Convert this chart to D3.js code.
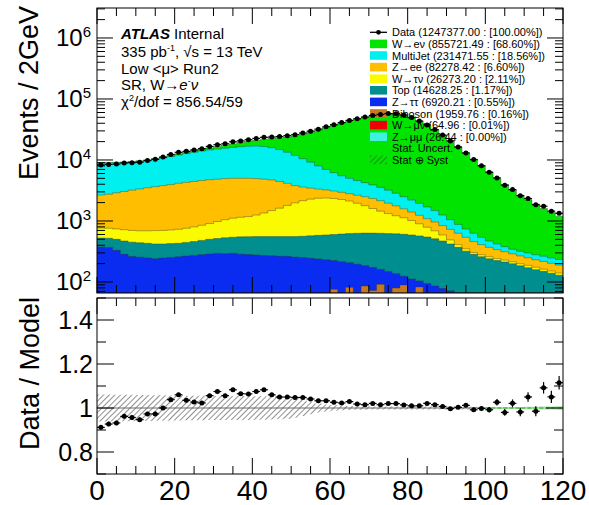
<!DOCTYPE html>
<meta charset="utf-8">
<style>
    body { margin: 0; background: #fff; }
    text { font-family: "Liberation Sans", Arial, Helvetica, sans-serif; fill: #000; }
</style>
<body>
<div id="chart"></div>
<script src="https://cdn.jsdelivr.net/npm/d3@7"></script>
<script>
    var width = 589,
        height = 505

    // 2 GeV bins from 0 to 120
    var binEdges = d3.range(0, 122, 2);

    var dataCounts = [8299, 8454, 8556, 8927, 9044, 9186, 9779, 10265, 11150, 12300,
        13356, 13869, 14583, 15345, 16685, 17845, 18427, 19873, 20555, 21493,
        22575, 23501, 23744, 24255, 25043, 25990, 27667, 29669, 32023, 35019,
        37962, 41022, 44556, 47439, 50547, 53705, 55825, 57630, 57324, 54553,
        49591, 43531, 37573, 31465, 25578, 20538, 16349, 13055, 10168, 8034,
        6299, 5079, 3871, 3267, 2602, 2331, 1852, 1746, 1449, 1337];

    var wenu = [150, 160, 180, 200, 230, 260, 300, 350, 410, 480,
        570, 680, 820, 1000, 1220, 1500, 1850, 2280, 2800, 3400,
        4100, 5100, 6500, 8300, 10450, 12900, 15900, 19300, 23000, 26900,
        30800, 34600, 38300, 42000, 45550, 48700, 51450, 53300, 53350, 51300,
        46900, 41150, 35100, 29520, 24150, 19550, 15420, 12160, 9620, 7510,
        5880, 4530, 3570, 2855, 2330, 1920, 1600, 1335, 1132, 965];

    var multijet = [6280, 6210, 6100, 6030, 6020, 6090, 6250, 6550, 6940, 7420,
        7880, 8420, 8930, 9400, 9830, 10250, 10650, 11070, 11490, 11800,
        11950, 11750, 11200, 10350, 9250, 8100, 6900, 5750, 4670, 3780,
        3100, 2550, 2200, 1950, 1750, 1570, 1400, 1240, 1080, 920,
        800, 710, 610, 520, 410, 320, 250, 200, 170, 130,
        100, 80, 66, 55, 52, 50, 48, 47, 45, 45];

    var zee = [1902, 1990, 2160, 2330, 2500, 2660, 2810, 2955, 3100, 3240,
        3420, 3540, 3650, 3750, 3840, 3870, 3900, 3890, 3860, 3820,
        3700, 3500, 3220, 2830, 2350, 1820, 1450, 1170, 970, 840,
        760, 700, 680, 700, 720, 730, 700, 640, 550, 450,
        380, 340, 300, 270, 250, 240, 220, 190, 155, 130,
        110, 98, 85, 75, 68, 62, 57, 55, 51, 49];

    var wtaunu = [242, 240, 240, 250, 250, 250, 260, 275, 280, 285,
        300, 315, 340, 370, 410, 465, 520, 570, 602, 627,
        695, 795, 925, 1065, 1247, 1425, 1590, 1710, 1780, 1790,
        1740, 1640, 1500, 1322, 1148, 968, 822, 698, 605, 525,
        430, 330, 245, 180, 120, 70, 40, 30, 20, 20,
        20, 17, 16, 15, 15, 16, 15, 13, 12, 11];

    var topQuark = [151, 152, 170, 185, 188, 185, 182, 180, 174, 173,
        172, 179, 188, 200, 213, 222, 240, 246, 263, 273,
        279, 285, 287, 293, 291, 300, 310, 326, 342, 360,
        376, 396, 414, 433, 448, 460, 468, 474, 479, 481,
        478, 466, 451, 424, 392, 348, 304, 260, 230, 210,
        194, 183, 175, 165, 153, 142, 132, 124, 116, 108];

    var ztautau = [370, 362, 324, 278, 254, 246, 239, 230, 235, 240,
        245, 252, 257, 263, 269, 274, 269, 272, 261, 255,
        249, 241, 237, 228, 225, 214, 205, 195, 184, 171,
        149, 157, 125, 132, 99, 100, 69, 83, 57, 35,
        51, 21, 41, 40, 47, 45, 27, 37, 36, 34,
        32, 30, 27, 25, 23, 22, 21, 19, 18, 16];

    var diboson = [4, 5, 5, 6, 7, 8, 8, 9, 10, 11,
        12, 13, 14, 16, 17, 18, 20, 21, 23, 24,
        26, 28, 30, 33, 36, 40, 44, 48, 53, 58,
        74, 56, 80, 62, 84, 71, 90, 64, 78, 88,
        60, 82, 52, 45, 30, 26, 38, 22, 18, 15,
        13, 11, 10, 9, 8, 7, 6, 6, 5, 5];

    var wmunu = [0.6, 0.7, 0.7, 0.8, 0.8, 0.9, 0.9, 1.0, 1.0, 1.1,
        1.1, 1.2, 1.2, 1.3, 1.3, 1.4, 1.4, 1.5, 1.5, 1.5,
        1.6, 1.6, 1.6, 1.7, 1.7, 1.6, 1.6, 1.5, 1.5, 1.4,
        1.4, 1.3, 1.3, 1.2, 1.2, 1.1, 1.1, 1.0, 1.0, 0.9,
        0.9, 0.8, 0.8, 0.7, 0.7, 0.6, 0.6, 0.5, 0.5, 0.5,
        0.4, 0.4, 0.4, 0.3, 0.3, 0.3, 0.3, 0.2, 0.2, 0.2];

    var zmumu = [0.3, 0.3, 0.3, 0.4, 0.4, 0.4, 0.4, 0.5, 0.5, 0.5,
        0.5, 0.5, 0.6, 0.6, 0.6, 0.6, 0.6, 0.6, 0.7, 0.7,
        0.7, 0.7, 0.7, 0.7, 0.7, 0.7, 0.6, 0.6, 0.6, 0.6,
        0.6, 0.5, 0.5, 0.5, 0.5, 0.5, 0.4, 0.4, 0.4, 0.4,
        0.4, 0.3, 0.3, 0.3, 0.3, 0.3, 0.3, 0.2, 0.2, 0.2,
        0.2, 0.2, 0.2, 0.2, 0.1, 0.1, 0.1, 0.1, 0.1, 0.1];

    // relative half widths of the uncertainty bands in the ratio
    var systBand = [0.061, 0.061, 0.060, 0.060, 0.060, 0.059, 0.059, 0.058, 0.058, 0.057,
        0.057, 0.056, 0.056, 0.056, 0.055, 0.055, 0.055, 0.054, 0.054, 0.054,
        0.053, 0.053, 0.052, 0.051, 0.049, 0.044, 0.036, 0.028, 0.021, 0.016,
        0.012, 0.010, 0.009, 0.008, 0.008, 0.007, 0.007, 0.007, 0.007, 0.007,
        0.007, 0.007, 0.007, 0.007, 0.007, 0.007, 0.007, 0.007, 0.006, 0.006,
        0, 0, 0, 0, 0, 0, 0, 0, 0, 0];

    var statBand = [0.002, 0.002, 0.002, 0.002, 0.002, 0.002, 0.002, 0.002, 0.002, 0.002,
        0.002, 0.002, 0.002, 0.002, 0.002, 0.002, 0.002, 0.002, 0.002, 0.002,
        0.002, 0.002, 0.002, 0.002, 0.002, 0.002, 0.002, 0.002, 0.002, 0.002,
        0.002, 0.002, 0.002, 0.002, 0.002, 0.002, 0.002, 0.002, 0.002, 0.002,
        0.002, 0.002, 0.002, 0.003, 0.003, 0.003, 0.003, 0.003, 0.003, 0.004,
        0.004, 0.004, 0.005, 0.005, 0.005, 0.006, 0.006, 0.007, 0.007, 0.008];

    var legendLabels = [
        'Data (1247377.00 : [100.00%])',
        'W\u2192e\u03bd (855721.49 : [68.60%])',
        'MultiJet (231471.55 : [18.56%])',
        'Z\u2192ee (82278.42 : [6.60%])',
        'W\u2192\u03c4\u03bd (26273.20 : [2.11%])',
        'Top (14628.25 : [1.17%])',
        'Z\u2192\u03c4\u03c4 (6920.21 : [0.55%])',
        'Diboson (1959.76 : [0.16%])',
        'W\u2192\u03bc\u03bd (64.96 : [0.01%])',
        'Z\u2192\u03bc\u03bc (26.44 : [0.00%])',
        'Stat. Uncert.',
        'Stat \u2295 Syst'
    ];

    var xTickLabels = ['0', '20', '40', '60', '80', '100', '120'];
    var logTickPowers = [2, 3, 4, 5, 6];
    var ratioTicks = [0.8, 1, 1.2, 1.4];
    var ratioTickLabels = ['0.8', '1', '1.2', '1.4'];

    // stack from bottom to top
    var stackValues = [zmumu, wmunu, diboson, ztautau, topQuark, wtaunu, zee, multijet, wenu];
    var stackColors = ['#3ff2e0', '#ee0000', '#c8781f', '#0a2cf0', '#008e8e', '#fafa00', '#ffbe00', '#00f0f0', '#00e400'];
    // legend order (top to bottom) -> index into stack
    var legendStack = [8, 7, 6, 5, 4, 3, 2, 1, 0];

    var left = 97, right = 563;
    var topY0 = 8, topY1 = 293;
    var botY0 = 298, botY1 = 474;

    var svg = d3.select('#chart').append('svg')
        .attr('width', width)
        .attr('height', height);

    var x = d3.scaleLinear().domain([0, 120]).range([left, right]);
    var y = d3.scaleLog().domain([66, 3.1e6]).range([topY1, topY0]).clamp(true);
    var yr = d3.scaleLinear().domain([0.7, 1.5]).range([botY1, botY0]).clamp(true);

    var cum = [];
    var running = dataCounts.map(function () { return 0; });
    stackValues.forEach(function (vals) {
        running = running.map(function (r, i) { return r + vals[i]; });
        cum.push(running);
    });
    var model = cum[cum.length - 1];

    function stepPoints(vals) {
        var pts = [];
        vals.forEach(function (v, i) {
            pts.push({x: binEdges[i], v: v});
            pts.push({x: binEdges[i + 1], v: v});
        });
        return pts;
    }

    var defs = svg.append('defs');
    defs.append('clipPath').attr('id', 'clipTop')
        .append('rect').attr('x', left).attr('y', topY0)
        .attr('width', right - left).attr('height', topY1 - topY0);
    defs.append('clipPath').attr('id', 'clipBot')
        .append('rect').attr('x', left).attr('y', botY0)
        .attr('width', right - left).attr('height', botY1 - botY0);
    var hatch = defs.append('pattern').attr('id', 'hatch')
        .attr('patternUnits', 'userSpaceOnUse')
        .attr('width', 4).attr('height', 4)
        .attr('patternTransform', 'rotate(45)');
    hatch.append('line').attr('x1', 0).attr('y1', 0).attr('x2', 0).attr('y2', 4)
        .attr('stroke', '#444').attr('stroke-width', 1.2);

    // ---------- upper panel: stacked histograms ----------
    var stackG = svg.append('g').attr('clip-path', 'url(#clipTop)');
    var area = d3.area()
        .x(function (d) { return x(d.x); })
        .y0(topY1)
        .y1(function (d) { return y(d.v); });
    var line = d3.line()
        .x(function (d) { return x(d.x); })
        .y(function (d) { return y(d.v); });

    for (var k = cum.length - 1; k >= 0; k--) {
        var pts = stepPoints(cum[k]);
        stackG.append('path').attr('d', area(pts)).attr('fill', stackColors[k]);
        stackG.append('path').attr('d', line(pts))
            .attr('fill', 'none').attr('stroke', '#333')
            .attr('stroke-opacity', 0.55).attr('stroke-width', 0.7);
    }

    // legend
    var legend = svg.append('g').attr('font-size', 11);
    legendLabels.forEach(function (lab, i) {
        var cy = 32.3 + 11.6 * i;
        if (i === 0) {
            legend.append('line').attr('x1', 370).attr('x2', 387).attr('y1', cy).attr('y2', cy)
                .attr('stroke', '#000').attr('stroke-width', 1.3);
            legend.append('circle').attr('cx', 378.5).attr('cy', cy).attr('r', 2.4);
        } else if (i <= 9) {
            legend.append('rect').attr('x', 370).attr('y', cy - 4.3)
                .attr('width', 17).attr('height', 8.6)
                .attr('fill', stackColors[legendStack[i - 1]]);
        } else if (i === 11) {
            legend.append('rect').attr('x', 370).attr('y', cy - 4.3)
                .attr('width', 17).attr('height', 8.6)
                .attr('fill', 'url(#hatch)');
        }
        legend.append('text').attr('x', 392).attr('y', cy + 4).text(lab);
    });

    // data points
    var dataG = svg.append('g').attr('clip-path', 'url(#clipTop)');
    dataCounts.forEach(function (n, i) {
        var cx = x((binEdges[i] + binEdges[i + 1]) / 2);
        var err = Math.sqrt(n);
        dataG.append('line')
            .attr('x1', x(binEdges[i])).attr('x2', x(binEdges[i + 1]))
            .attr('y1', y(n)).attr('y2', y(n))
            .attr('stroke', '#000').attr('stroke-width', 1.2);
        dataG.append('line')
            .attr('x1', cx).attr('x2', cx)
            .attr('y1', y(n - err)).attr('y2', y(n + err))
            .attr('stroke', '#000').attr('stroke-width', 1.2);
        dataG.append('circle').attr('cx', cx).attr('cy', y(n)).attr('r', 2.5);
    });

    // ---------- lower panel: ratio ----------
    var ratioG = svg.append('g').attr('clip-path', 'url(#clipBot)');
    var bandPts = [];
    systBand.forEach(function (s, i) {
        bandPts.push({x: binEdges[i], s: s});
        bandPts.push({x: binEdges[i + 1], s: s});
    });
    // the green stat band only shows where the hatched band ends
    var statPts = [];
    statBand.forEach(function (s, i) {
        if (systBand[i] > 0) return;
        statPts.push({x: binEdges[i], s: s});
        statPts.push({x: binEdges[i + 1], s: s});
    });

    ratioG.append('path')
        .attr('d', d3.area()
            .x(function (d) { return x(d.x); })
            .y0(function (d) { return yr(1 - d.s); })
            .y1(function (d) { return yr(1 + d.s); })(statPts))
        .attr('fill', '#7bd67b').attr('fill-opacity', 0.7);
    ratioG.append('path')
        .attr('d', d3.line()
            .x(function (d) { return x(d.x); })
            .y(yr(1))(statPts))
        .attr('fill', 'none').attr('stroke', '#2aa52a')
        .attr('stroke-width', 1.2).attr('stroke-dasharray', '4,2');

    ratioG.append('path')
        .attr('d', d3.area()
            .defined(function (d) { return d.s > 0; })
            .x(function (d) { return x(d.x); })
            .y0(function (d) { return yr(1 - d.s); })
            .y1(function (d) { return yr(1 + d.s); })(bandPts))
        .attr('fill', 'url(#hatch)');

    var bandEnd = d3.max(systBand.map(function (s, i) { return s > 0 ? binEdges[i + 1] : 0; }));
    ratioG.append('line')
        .attr('x1', x(0)).attr('x2', x(bandEnd))
        .attr('y1', yr(1)).attr('y2', yr(1))
        .attr('stroke', '#666').attr('stroke-width', 1);

    dataCounts.forEach(function (n, i) {
        var r = n / model[i];
        var e = Math.sqrt(n) / model[i];
        var cx = x((binEdges[i] + binEdges[i + 1]) / 2);
        ratioG.append('line')
            .attr('x1', x(binEdges[i])).attr('x2', x(binEdges[i + 1]))
            .attr('y1', yr(r)).attr('y2', yr(r))
            .attr('stroke', '#000').attr('stroke-width', 1.2);
        ratioG.append('line')
            .attr('x1', cx).attr('x2', cx)
            .attr('y1', yr(r - e)).attr('y2', yr(r + e))
            .attr('stroke', '#000').attr('stroke-width', 1.2);
        ratioG.append('circle').attr('cx', cx).attr('cy', yr(r)).attr('r', 2.5);
    });

    // ---------- frames and ticks ----------
    var axes = svg.append('g').attr('stroke', '#000').attr('stroke-width', 1);
    [[topY0, topY1], [botY0, botY1]].forEach(function (p) {
        axes.append('rect').attr('x', left).attr('y', p[0])
            .attr('width', right - left).attr('height', p[1] - p[0])
            .attr('fill', 'none');
        d3.range(0, 121, 5).forEach(function (v) {
            var len = v % 20 === 0 ? 16 : 8;
            axes.append('line').attr('x1', x(v)).attr('x2', x(v))
                .attr('y1', p[1]).attr('y2', p[1] - len);
            axes.append('line').attr('x1', x(v)).attr('x2', x(v))
                .attr('y1', p[0]).attr('y2', p[0] + len);
        });
    });

    y.ticks().forEach(function (v) {
        var lg = Math.log10(v);
        var major = Math.abs(lg - Math.round(lg)) < 1e-6;
        var len = major ? 16 : 8;
        var yy = y(v);
        if (yy < topY0 || yy > topY1) return;
        axes.append('line').attr('x1', left).attr('x2', left + len).attr('y1', yy).attr('y2', yy);
        axes.append('line').attr('x1', right).attr('x2', right - len).attr('y1', yy).attr('y2', yy);
    });

    [0.7, 0.8, 0.9, 1.0, 1.1, 1.2, 1.3, 1.4, 1.5].forEach(function (v) {
        var major = ratioTicks.some(function (t) { return Math.abs(t - v) < 1e-6; });
        var len = major ? 17 : 9;
        var yy = yr(v);
        axes.append('line').attr('x1', left).attr('x2', left + len).attr('y1', yy).attr('y2', yy);
        axes.append('line').attr('x1', right).attr('x2', right - len).attr('y1', yy).attr('y2', yy);
    });

    // tick labels
    xTickLabels.forEach(function (lab) {
        svg.append('text').attr('x', x(+lab)).attr('y', 500)
            .attr('text-anchor', 'middle').attr('font-size', 28).text(lab);
    });

    logTickPowers.forEach(function (p) {
        var t = svg.append('text').attr('x', 91).attr('y', y(Math.pow(10, p)) + 8.5)
            .attr('text-anchor', 'end').attr('font-size', 24);
        t.append('tspan').text('10');
        t.append('tspan').attr('font-size', 15).attr('dy', -9).text(p);
    });

    ratioTicks.forEach(function (v, i) {
        svg.append('text').attr('x', 93).attr('y', yr(v) + 9)
            .attr('text-anchor', 'end').attr('font-size', 25).text(ratioTickLabels[i]);
    });

    // axis titles
    svg.append('text').attr('transform', 'translate(37.5,6) rotate(-90)')
        .attr('text-anchor', 'end').attr('font-size', 27).text('Events / 2GeV');
    svg.append('text').attr('transform', 'translate(39,297) rotate(-90)')
        .attr('text-anchor', 'end').attr('font-size', 27).text('Data / Model');

    // info text
    var info = svg.append('g').attr('font-size', 15);
    var t1 = info.append('text').attr('x', 121).attr('y', 39);
    t1.append('tspan').attr('font-weight', 'bold').attr('font-style', 'italic').text('ATLAS');
    t1.append('tspan').text(' Internal');

    var t2 = info.append('text').attr('x', 121).attr('y', 57);
    t2.append('tspan').text('335 pb');
    t2.append('tspan').attr('font-size', 9).attr('dy', -6).text('-1');
    t2.append('tspan').attr('dy', 6).text(', \u221As = 13 TeV');

    info.append('text').attr('x', 121).attr('y', 73.5).text('Low <\u03bc> Run2');

    var t4 = info.append('text').attr('x', 121).attr('y', 90);
    t4.append('tspan').text('SR, W\u2192');
    t4.append('tspan').attr('font-style', 'italic').text('e');
    t4.append('tspan').attr('font-size', 9).attr('dy', -6).text('-');
    t4.append('tspan').attr('dy', 6).attr('font-style', 'italic').text('\u03bd');

    var t5 = info.append('text').attr('x', 121).attr('y', 106.5);
    t5.append('tspan').text('\u03c7');
    t5.append('tspan').attr('font-size', 9).attr('dy', -6).text('2');
    t5.append('tspan').attr('dy', 6).text('/dof = 856.54/59');
</script>
